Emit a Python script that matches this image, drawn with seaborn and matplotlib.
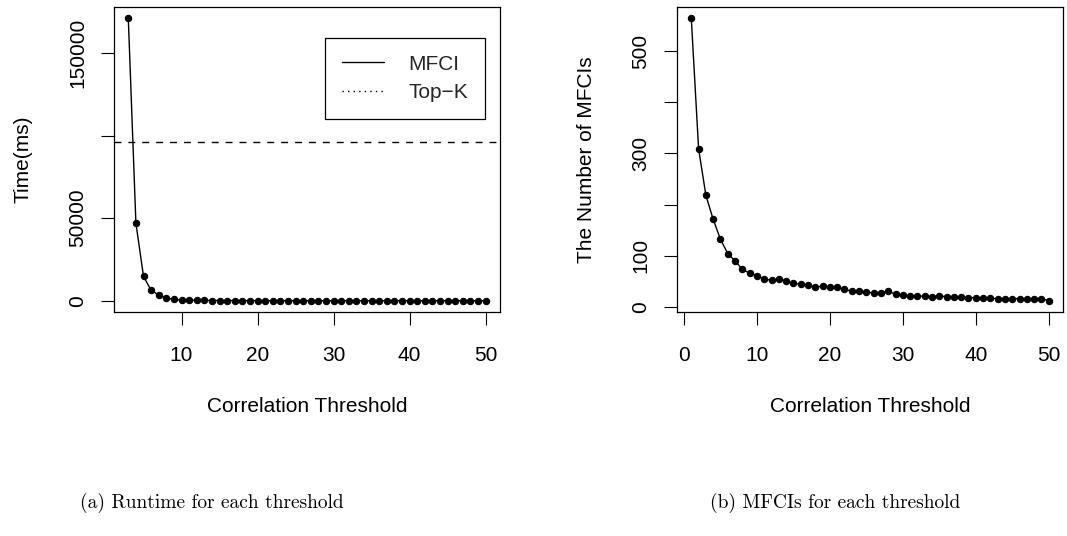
import numpy as np
import pandas as pd
import seaborn as sns
import matplotlib
matplotlib.use("Agg")
import matplotlib.pyplot as plt
from matplotlib.lines import Line2D

# ---- data ----
thr_a = list(range(3, 51))
runtime_ms = [171000, 47000, 14800, 6300, 3500, 1600, 800, 450, 300, 220,
              170, 140, 120, 100, 90, 80, 72, 65, 60, 55,
              51, 48, 45, 42, 40, 38, 36, 34, 33, 32,
              31, 30, 29, 28, 27, 26, 25, 24, 24, 23,
              22, 22, 21, 21, 20, 20, 19, 19]
topk_time = 96000

thr_b = list(range(1, 51))
mfci_count = [564, 309, 218, 171, 132, 104, 90, 73, 66, 61,
              54, 52, 55, 50, 46, 44, 42, 39, 40, 39,
              38, 34, 31, 30, 29, 27, 28, 30, 25, 23,
              21, 21, 21, 20, 21, 20, 19, 19, 18, 18,
              17, 17, 16, 16, 16, 16, 16, 16, 16, 12]

yticks_a = [0, 50000, 100000, 150000]
yticklabels_a = ["0", "50000", "", "150000"]
xticks_a = [10, 20, 30, 40, 50]
yticks_b = [0, 100, 200, 300, 400, 500]
yticklabels_b = ["0", "100", "", "300", "", "500"]
xticks_b = [0, 10, 20, 30, 40, 50]

xlabel = "Correlation Threshold"
ylabel_a = "Time(ms)"
ylabel_b = "The Number of MFCIs"
legend_labels = ["MFCI", "Top\u2212K"]
caption_a = "(a) Runtime for each threshold"
caption_b = "(b) MFCIs for each threshold"

# ---- style ----
sns.set_theme(style="ticks")
plt.rcParams["font.family"] = ["Liberation Sans", "DejaVu Sans"]
FS = 15

W, H = 1067, 536
fig = plt.figure(figsize=(W / 100, H / 100), dpi=100)
fig.patch.set_facecolor("white")

def px_axes(x0, x1, y0, y1):
    return fig.add_axes([x0 / W, 1 - y1 / H, (x1 - x0) / W, (y1 - y0) / H])

ax1 = px_axes(114, 500, 7, 312)
ax2 = px_axes(677, 1063, 7, 312)

def r_lim(vals):
    lo, hi = min(vals), max(vals)
    ext = 0.04 * (hi - lo)
    return lo - ext, hi + ext

df_a = pd.DataFrame({"thr": thr_a, "val": runtime_ms})
df_b = pd.DataFrame({"thr": thr_b, "val": mfci_count})

for ax, df in ((ax1, df_a), (ax2, df_b)):
    sns.lineplot(data=df, x="thr", y="val", ax=ax, color="black", linewidth=1.0,
                 marker="o", markersize=4.6, markeredgecolor="black",
                 markerfacecolor="black", legend=False)
    ax.set_xlim(*r_lim(df["thr"]))
    ax.set_ylim(*r_lim(df["val"]))
    ax.set_facecolor("white")
    for sp in ax.spines.values():
        sp.set_visible(True)
        sp.set_color("black")
        sp.set_linewidth(0.9)
    ax.tick_params(axis="both", direction="out", length=9.5, width=0.8,
                   color="black", labelsize=FS, labelcolor="black")
    ax.tick_params(axis="x", pad=15)
    ax.tick_params(axis="y", pad=10)
    ax.grid(False)

ax1.axhline(topk_time, color="black", linestyle=(0, (5, 5)), linewidth=1.0)

ax1.set_xticks(xticks_a)
ax1.set_xticklabels([str(t) for t in xticks_a])
ax1.set_yticks(yticks_a)
ax1.set_yticklabels(yticklabels_a, rotation=90, va="center")
ax2.set_xticks(xticks_b)
ax2.set_xticklabels([str(t) for t in xticks_b])
ax2.set_yticks(yticks_b)
ax2.set_yticklabels(yticklabels_b, rotation=90, va="center")

for ax, yl in ((ax1, ylabel_a), (ax2, ylabel_b)):
    ax.set_xlabel(xlabel, fontsize=FS, color="black")
    ax.set_ylabel(yl, fontsize=FS, color="black")
    ax.xaxis.set_label_coords(0.5, (312 - 407) / 305)
    ax.xaxis.label.set_verticalalignment("center")
    ax.yaxis.set_label_coords((23 - 114) / 386, 0.5)
    ax.yaxis.label.set_verticalalignment("center")
    ax.yaxis.label.set_horizontalalignment("center")

handles = [Line2D([], [], color="black", linewidth=1.0, linestyle="-"),
           Line2D([], [], color="black", linewidth=1.0, linestyle=(0, (1, 3)))]
leg = ax1.legend(handles, legend_labels, loc="upper right",
                 bbox_to_anchor=(0.961, 0.898), fontsize=FS, frameon=True,
                 fancybox=False, shadow=False, framealpha=1,
                 edgecolor="black", handlelength=2.0, handletextpad=1.2,
                 borderpad=0.8, labelspacing=0.45, borderaxespad=0)
leg.get_frame().set_linewidth(0.9)

fig.text(212 / W, 1 - 503 / H, caption_a, fontfamily="cmr10", fontsize=14,
         ha="center", va="center", color="black")
fig.text(835 / W, 1 - 503 / H, caption_b, fontfamily="cmr10", fontsize=14,
         ha="center", va="center", color="black")

fig.savefig("out.png", dpi=100, facecolor="white")
